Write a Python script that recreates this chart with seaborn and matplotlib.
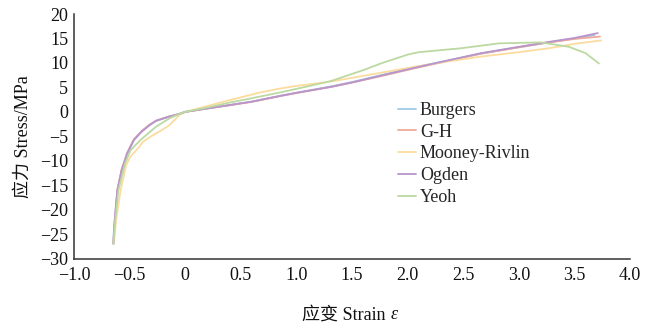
import numpy as np
import pandas as pd
import matplotlib
matplotlib.use("Agg")
import matplotlib.pyplot as plt
import seaborn as sns

# Stress-strain curves for five hyperelastic constitutive models
models = ["Burgers", "G-H", "Mooney-Rivlin", "Ogden", "Yeoh"]
colors = ["#9ec9e6", "#f0a99a", "#fbdc9e", "#b995cc", "#bcd9a2"]

burgers_x = [-0.645, -0.64, -0.61, -0.57, -0.52, -0.46, -0.39, -0.32, -0.26, -0.15, -0.05, 0.0,
             0.1, 0.2, 0.4, 0.6, 0.86, 1.0, 1.31, 1.5, 1.76, 2.06, 2.36, 2.66, 3.0, 3.27, 3.5, 3.68]
burgers_y = [-26.9, -24.2, -16.2, -11.9, -8.5, -5.7, -4.0, -2.7, -1.8, -1.0, -0.4, 0.0,
             0.35, 0.7, 1.4, 2.1, 3.3, 3.9, 5.2, 6.1, 7.5, 9.1, 10.5, 11.9, 13.2, 14.2, 15.0, 15.7]

gh_x = [-0.645, -0.635, -0.61, -0.57, -0.52, -0.46, -0.39, -0.32, -0.26, -0.15, -0.05, 0.0,
        0.1, 0.2, 0.4, 0.6, 0.86, 1.0, 1.31, 1.5, 1.76, 2.06, 2.36, 2.66, 3.0, 3.27, 3.5, 3.73]
gh_y = [-26.6, -23.5, -16.0, -11.7, -8.3, -5.6, -3.9, -2.6, -1.8, -1.0, -0.4, 0.0,
        0.35, 0.7, 1.35, 2.05, 3.25, 3.85, 5.1, 6.0, 7.3, 8.9, 10.4, 11.9, 13.2, 14.2, 14.9, 15.4]

mooney_x = [-0.64, -0.62, -0.58, -0.53, -0.49, -0.41, -0.38, -0.30, -0.23, -0.14, -0.05, 0.0,
            0.1, 0.2, 0.4, 0.68, 0.86, 1.0, 1.31, 1.76, 2.06, 2.36, 2.66, 3.0, 3.27, 3.5, 3.74]
mooney_y = [-26.8, -22.0, -16.0, -10.8, -9.1, -7.1, -6.1, -4.9, -4.0, -2.7, -0.6, 0.0,
            0.6, 1.2, 2.4, 4.0, 4.8, 5.3, 6.2, 8.0, 9.2, 10.3, 11.3, 12.2, 13.0, 13.9, 14.6]

ogden_x = [-0.645, -0.64, -0.61, -0.57, -0.52, -0.46, -0.39, -0.32, -0.26, -0.15, -0.05, 0.0,
           0.1, 0.2, 0.4, 0.6, 0.86, 1.0, 1.31, 1.5, 1.76, 2.06, 2.36, 2.66, 3.0, 3.27, 3.5, 3.71]
ogden_y = [-27.0, -23.8, -16.0, -11.8, -8.4, -5.7, -4.0, -2.7, -1.8, -1.0, -0.4, 0.0,
           0.35, 0.7, 1.4, 2.1, 3.3, 3.9, 5.1, 6.0, 7.4, 9.0, 10.5, 12.0, 13.3, 14.3, 15.1, 16.1]

yeoh_x = [-0.645, -0.63, -0.60, -0.54, -0.49, -0.40, -0.26, -0.14, -0.05, 0.0,
          0.2, 0.4, 0.6, 0.86, 1.0, 1.31, 1.61, 1.76, 2.0, 2.1, 2.48, 2.82, 3.2, 3.45, 3.6, 3.72]
yeoh_y = [-27.0, -22.5, -16.0, -10.5, -7.8, -5.7, -3.0, -1.3, -0.4, 0.0,
          0.9, 1.9, 2.8, 4.0, 4.7, 6.3, 8.6, 9.9, 11.7, 12.2, 13.0, 14.0, 14.2, 13.3, 12.0, 9.9]

x_ticks = [-1.0, -0.5, 0.0, 0.5, 1.0, 1.5, 2.0, 2.5, 3.0, 3.5, 4.0]
x_tick_labels = ["−1.0", "−0.5", "0", "0.5", "1.0", "1.5", "2.0", "2.5", "3.0", "3.5", "4.0"]
y_ticks = [-30, -25, -20, -15, -10, -5, 0, 5, 10, 15, 20]
y_tick_labels = ["−30", "−25", "−20", "−15", "−10", "−5", "0", "5", "10", "15", "20"]

series = {
    "Burgers": (burgers_x, burgers_y),
    "G-H": (gh_x, gh_y),
    "Mooney-Rivlin": (mooney_x, mooney_y),
    "Ogden": (ogden_x, ogden_y),
    "Yeoh": (yeoh_x, yeoh_y),
}
frames = []
for name in models:
    xs, ys = series[name]
    frames.append(pd.DataFrame({"strain": xs, "stress": ys, "model": name}))
df = pd.concat(frames, ignore_index=True)

sns.set_theme(style="white")
plt.rcParams["font.family"] = ["Liberation Serif", "Noto Sans CJK SC"]
plt.rcParams["axes.unicode_minus"] = True

FS = 13

fig = plt.figure(figsize=(6.66, 3.29), dpi=100)
ax = fig.add_axes([0.111, 0.2137, 0.835, 0.7437])

sns.lineplot(data=df, x="strain", y="stress", hue="model", hue_order=models,
             palette=dict(zip(models, colors)), sort=False, estimator=None,
             linewidth=1.3, ax=ax)

ax.set_xlim(-1.0, 4.0)
ax.set_ylim(-30, 20)
ax.set_xticks(x_ticks)
ax.set_xticklabels(x_tick_labels)
ax.set_yticks(y_ticks)
ax.set_yticklabels(y_tick_labels)
ax.tick_params(axis="both", direction="in", length=4, width=1.0, color="#222222",
               labelsize=FS, labelcolor="#111111")
ax.tick_params(axis="x", pad=6)
ax.tick_params(axis="y", pad=4)

for side in ["top", "right"]:
    ax.spines[side].set_visible(False)
for side in ["left", "bottom"]:
    ax.spines[side].set_color("#333333")
    ax.spines[side].set_linewidth(1.1)

# axis titles; the strain symbol is set in italic right after the label
xlab = ax.set_xlabel("应变 Strain ", fontsize=FS, color="#111111", labelpad=16)
ax.set_ylabel("应力 Stress/MPa", fontsize=FS, color="#111111", labelpad=6)
xlab.set_x(0.49)
ax.annotate("ε", xy=(1.0, 0.0), xycoords=xlab, xytext=(0, 0), textcoords="offset points",
            ha="left", va="bottom", fontsize=FS, style="italic", color="#111111",
            family=["Liberation Serif", "DejaVu Serif"])

leg = ax.legend(loc="upper left", bbox_to_anchor=(0.583, 0.64), frameon=False,
                fontsize=FS, handlelength=1.0, handletextpad=0.2,
                labelspacing=0.26, borderpad=0, borderaxespad=0)
for line in leg.get_lines():
    line.set_linewidth(1.3)

fig.savefig("out.png", dpi=100)
